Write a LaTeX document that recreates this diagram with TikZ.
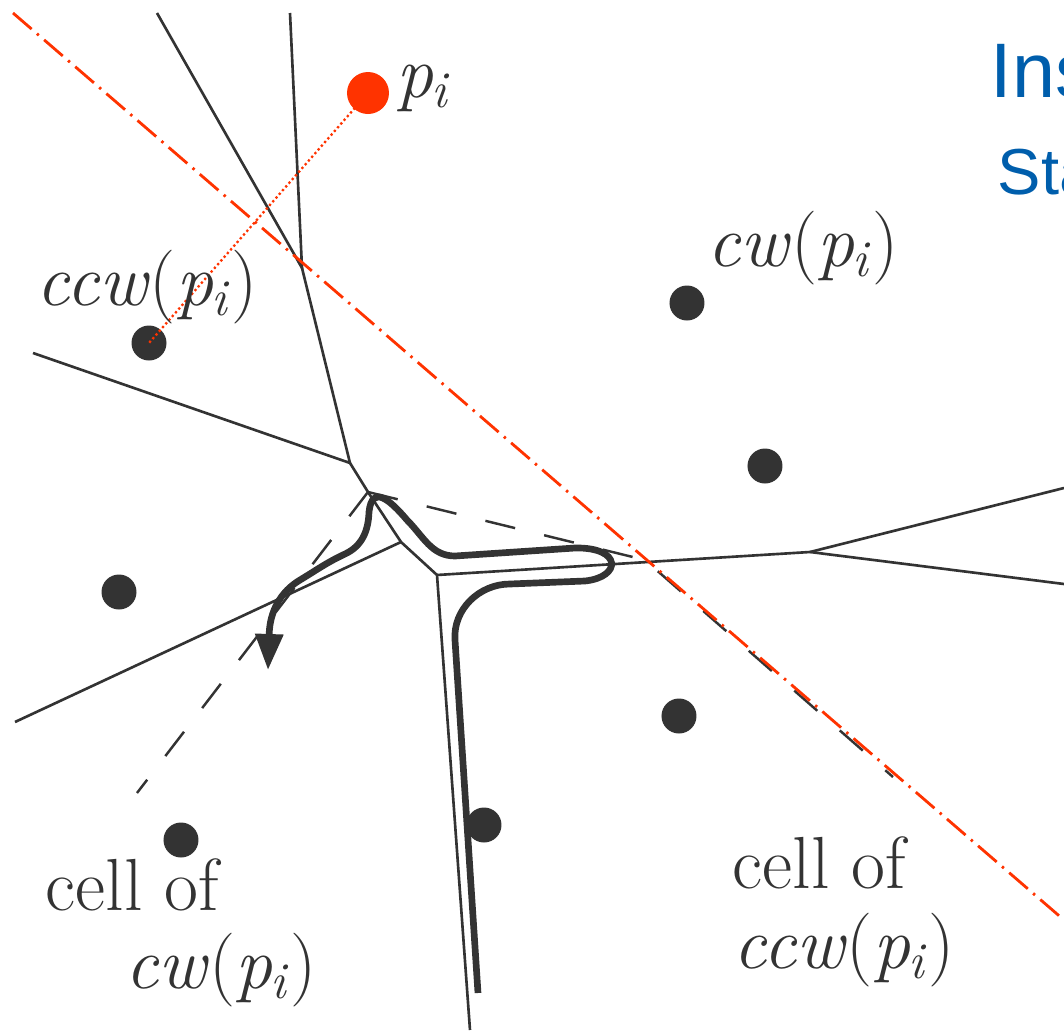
\documentclass[tikz,border=0pt]{standalone}
\usepackage{fontspec}
\usepackage{tikz}
\usetikzlibrary{positioning,arrows.meta}
\usepackage{xcolor}
\newfontfamily\slidefont{Liberation Sans}
\newcommand{\psite}{\textit{p}\textsubscript{\kern-0.5pt\textit{i}}}
\definecolor{ink}{HTML}{333333}
\definecolor{hot}{HTML}{FF3300}
\definecolor{slideblue}{HTML}{005EAC}
\tikzset{
  site/.style={circle,fill=ink,inner sep=0pt,minimum size=3.5mm},
  newsite/.style={circle,fill=hot,inner sep=0pt,minimum size=4.2mm},
  lbl/.style={anchor=base west,inner sep=0pt,text=ink,font=\fontsize{21}{25}\selectfont},
  vedge/.style={ink,line width=0.75pt},
  bound/.style={ink,line width=0.7pt,dash pattern=on 8.7pt off 8.5pt},
  walk/.style={ink,line width=1.9pt},
  bisector/.style={hot,line width=0.8pt,dash pattern=on 7pt off 2pt on 0.7pt off 2pt}
}

\begin{document}
\begin{tikzpicture}[>={Triangle[length=3.6mm,width=2.7mm]}]
\useasboundingbox (0,0) rectangle (10.64,10.32);
\coordinate (v1) at (3.02,7.64);
\coordinate (v2) at (3.50,5.69);
\coordinate (v3) at (3.68,5.40);
\coordinate (v4) at (4.01,4.90);
\coordinate (v5) at (4.37,4.57);
\coordinate (v6) at (8.10,4.80);
\coordinate (e1) at (1.57,10.19);
\coordinate (e2) at (2.90,10.19);
\coordinate (e3) at (0.33,6.79);
\coordinate (e4) at (0.15,3.10);
\coordinate (e5) at (4.70,0.02);
\coordinate (e6) at (10.64,5.44);
\coordinate (e7) at (10.64,4.48);
\coordinate (q1) at (6.45,4.72);
\coordinate (q2) at (8.93,2.55);
\coordinate (q3) at (1.37,2.39);
\coordinate (r1) at (0.13,10.19);
\coordinate (r2) at (10.64,1.12);
\draw[vedge] (e1) -- (v1) -- (e2);
\draw[vedge] (v1) -- (v2) -- (e3);
\draw[vedge] (v2) -- (v3) -- (v4) -- (v5) -- (e5);
\draw[vedge] (e4) -- (v4);
\draw[vedge] (v5) -- (v6) -- (e6);
\draw[vedge] (v6) -- (e7);
\draw[bound] (v3) -- (q1) -- (q2);
\draw[bound] (v3) -- (q3);
\draw[bisector] (r1) -- (r2);
\draw[walk,->] (4.78,0.39) -- (4.55,3.92) to[out=94,in=180] (5.10,4.48) -- (5.85,4.51)
  .. controls (6.22,4.55) and (6.22,4.85) .. (5.75,4.84) -- (4.55,4.76)
  to[out=180,in=-45] (4.07,5.12) .. controls (3.90,5.32) and (3.72,5.48) .. (3.69,5.20)
  to[out=-92,in=25] (3.45,4.78) to[out=205,in=31] (3.00,4.52) to[out=211,in=88] (2.68,3.62);
\node[newsite] (pi) at (3.68,9.39) {};
\node[site] (ccw) at (1.49,6.89) {};
\node[site] (cw) at (6.87,7.29) {};
\node[site] (s4) at (7.65,5.66) {};
\node[site] (s5) at (1.19,4.40) {};
\node[site] (s6) at (6.79,3.16) {};
\node[site] (s7) at (4.84,2.07) {};
\node[site] (s8) at (1.81,1.92) {};
\draw[hot,line width=0.65pt,dash pattern=on 0.65pt off 0.75pt] (pi.center) -- (ccw.center);
\node[lbl] (lpi) at (3.96,9.35) {\psite};
\node[lbl] (lccw) at (0.36,7.27) {\textit{ccw}(\psite)};
\node[lbl] (lcw) at (7.07,7.66) {\textit{cw}(\psite)};
\node[lbl] (cellcw) at (0.45,1.22) {cell of};
\node[lbl] (cellcwb) at (1.25,0.44) {\textit{cw}(\psite)};
\node[lbl] (cellccw) at (7.32,1.44) {cell of};
\node[lbl] (cellccwb) at (7.33,0.64) {\textit{ccw}(\psite)};
\node[anchor=base west,inner sep=0pt,text=slideblue,font=\slidefont\fontsize{22}{26}\selectfont] (title) at (9.90,9.35) {Ins};
\node[anchor=base west,inner sep=0pt,text=slideblue,font=\slidefont\fontsize{18.5}{22}\selectfont] (sub) at (9.97,8.38) {Sta};
\end{tikzpicture}
\end{document}
